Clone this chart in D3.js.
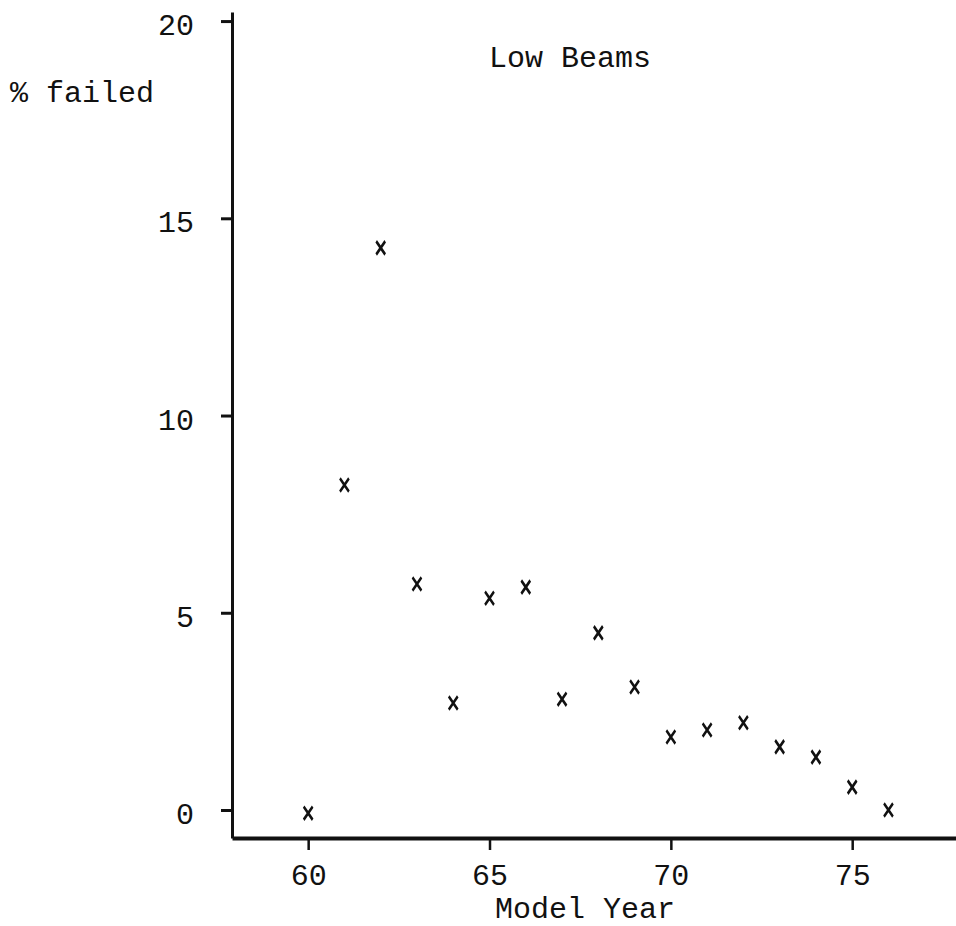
<!DOCTYPE html>
<html>
<head>
<meta charset="utf-8">
<script src="https://cdn.jsdelivr.net/npm/d3@7"></script>
<style>
  html, body { margin: 0; padding: 0; background: #fff; }
  svg { display: block; }
  text { font-family: "Liberation Mono", "DejaVu Sans Mono", monospace; fill: #111; }
</style>
</head>
<body>
<svg id="chart" width="956" height="926"></svg>
<script>
// ---- data ----
const modelYears = [60, 61, 62, 63, 64, 65, 66, 67, 68, 69, 70, 71, 72, 73, 74, 75, 76];
const pctFailed  = [-0.08, 8.24, 14.25, 5.73, 2.71, 5.37, 5.65, 2.81, 4.49, 3.12, 1.85, 2.03, 2.21, 1.60, 1.34, 0.58, 0.0];
const xTickValues = [60, 65, 70, 75];
const yTickValues = [0, 5, 10, 15, 20];
const chartTitle = "Low Beams";
const xTitle = "Model Year";
const yTitle = "% failed";

// ---- layout ----
const svg = d3.select("#chart");
const x = d3.scaleLinear().domain([57.9, 78]).range([232, 961]);
const y = d3.scaleLinear().domain([-0.71, 20.23]).range([838, 12]);
const ink = "#111";
const fs = 30;

// y axis
const yAxis = d3.axisLeft(y).tickValues(yTickValues).tickSizeInner(11).tickSizeOuter(0)
  .tickPadding(27).tickFormat(d3.format("d"));
const gy = svg.append("g").attr("transform", `translate(${x.range()[0]},0)`).call(yAxis);
gy.select(".domain").attr("stroke", ink).attr("stroke-width", 3);
gy.selectAll(".tick line").attr("stroke", ink).attr("stroke-width", 3);
gy.selectAll(".tick text")
  .attr("font-family", '"Liberation Mono", monospace')
  .attr("font-size", fs).attr("fill", ink)
  .attr("dy", "0.45em");

// x axis
const xAxis = d3.axisBottom(x).tickValues(xTickValues).tickSizeInner(12).tickSizeOuter(0)
  .tickPadding(14).tickFormat(d3.format("d"));
const gx = svg.append("g").attr("transform", `translate(0,${y.range()[0]})`).call(xAxis);
gx.select(".domain").attr("stroke", ink).attr("stroke-width", 4);
gx.selectAll(".tick line").attr("stroke", ink).attr("stroke-width", 2.5);
gx.selectAll(".tick text")
  .attr("font-family", '"Liberation Mono", monospace')
  .attr("font-size", fs).attr("fill", ink);

// markers (hand-written style crosses)
const pts = modelYears.map((yr, i) => ({yr, v: pctFailed[i]}));
svg.append("g").selectAll("path.mark")
  .data(pts)
  .join("path")
  .attr("class", "mark")
  .attr("transform", d => `translate(${x(d.yr)},${y(d.v)}) scale(0.85,1.25)`)
  .attr("d", d3.symbol().type(d3.symbolX).size(75))
  .attr("fill", "none")
  .attr("stroke", ink)
  .attr("stroke-width", 2.6);

// titles
svg.append("text").attr("x", 570).attr("y", 67).attr("text-anchor", "middle")
  .attr("font-size", fs).text(chartTitle);
svg.append("text").attr("x", 10).attr("y", 102).attr("text-anchor", "start")
  .attr("font-size", fs).text(yTitle);
svg.append("text").attr("x", 585).attr("y", 918).attr("text-anchor", "middle")
  .attr("font-size", fs).text(xTitle);
</script>
</body>
</html>
